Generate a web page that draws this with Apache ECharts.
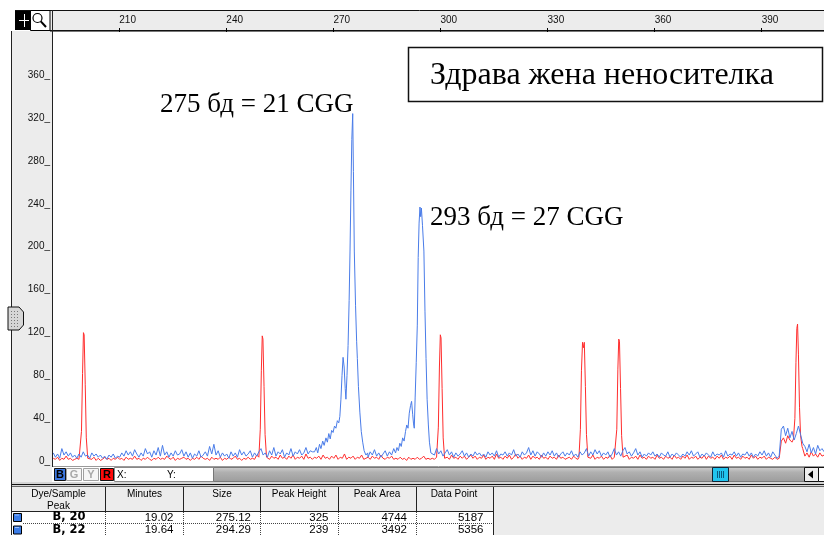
<!DOCTYPE html>
<html>
<head>
<meta charset="utf-8">
<title>Здрава жена неносителка</title>
<style>
  html, body { margin: 0; padding: 0; background: #fff; }
  #main { width: 824px; height: 535px; }
</style>
</head>
<body>
<div id="main"></div>
<script src="https://cdn.jsdelivr.net/npm/echarts/dist/echarts.min.js"></script>
<script>
// ---- data (size in bp, height in RFU) ----
var sizeStart = 191.5, sizeStep = 0.6;   // baseline samples
var xTicks = [210, 240, 270, 300, 330, 360, 390];
var yTicks = [0, 40, 80, 120, 160, 200, 240, 280, 320, 360];

var blueBaseline = [
  8,4,7,3,12,6,9,5,8,4,6,
  3,7,4,9,5,6,3,8,5,7,
  4,6,3,5,2,6,4,7,3,5,
  4,8,5,10,6,9,5,11,7,4,
  8,5,12,7,9,4,10,6,13,5,
  15,6,9,4,8,5,10,6,7,11,
  5,9,4,8,3,7,5,10,4,6,
  9,5,14,7,16,6,10,4,8,5,
  7,3,9,5,8,4,11,6,9,5,
  7,10,4,8,5,9,12,6,8,4,
  10,6,13,5,9,7,11,4,8,6,
  12,5,9,7,11,6,8,13,7,10,9,
  8,6,9,5,10,7,8,6,9,5,7,8,6,9,5,7,6,8,5,7,6,8,5,7,6,
  4,9,6,11,5,8,4,7,10,5,9,6,12,
  8,6,9,5,7,6,8,5,7,6,8,5,7,6,8,5,7,
  9,6,12,7,10,5,8,11,6,9,4,8,5,7,
  10,5,8,4,7,5,9,6,8,5,
  7,4,9,6,8,5,10,4,7,6,
  9,5,8,6,11,5,7,4,9,6,
  8,13,6,10,5,9,7,4,8,5,
  9,6,10,5,8,4,7,9,5,8,
  6,10,5,7,4,9,6,8,12,5,
  9,6,11,7,10,5,8,6,9,4,
  7,12,6,9,5,10,13,7,9,5,
  8,12,6,9,4,7,5,8,6,9,
  5,7,4,8,6,5,9,4,7,5,
  8,6,4,7,5,9,6,10,5,7,
  9,4,7,5,8,6,4,9,5,7,
  6,8,4,10,5,7,6,9,5,8,
  4,7,6,9,5,8,4,7,5,9,
  6,10,5,8,4,9,6,3,5,
  30,33,24,31,22,28,20,26,33,25,17,
  14,9,16,8,13,7,15,10,12,9
];

var redBaseline = [
  3,2,4,1,3,2,5,2,3,1,2,
  3,2,4,2,3,6,3,2,4,1,
  3,1,2,4,2,3,1,3,2,4,
  2,3,1,4,2,3,2,5,2,3,
  1,3,2,4,2,1,3,2,4,2,
  3,2,5,3,2,4,1,3,2,3,
  4,2,3,1,3,2,4,2,5,3,
  2,3,1,4,2,3,2,4,1,3,
  2,4,2,3,5,2,3,1,3,2,
  4,2,3,2,6,3,5,2,3,4,
  2,5,3,4,2,6,3,4,2,5,
  3,6,2,4,3,5,2,7,3,4,2,
  4,3,5,2,6,3,4,2,5,3,6,2,4,3,7,2,4,3,5,2,4,3,6,2,3,
  4,2,5,3,4,2,6,3,2,4,3,5,2,
  3,2,4,2,3,1,4,2,3,2,4,2,3,5,2,3,2,
  3,2,4,3,2,5,3,4,2,6,3,4,2,5,
  3,5,2,4,6,3,5,2,4,3,
  6,2,4,3,5,2,7,3,4,2,
  5,3,6,2,4,7,3,5,2,4,
  3,6,2,5,3,4,2,6,3,4,
  2,5,3,4,2,6,3,4,2,3,
  4,2,5,3,2,4,3,5,2,4,
  3,6,2,4,3,5,2,4,3,6,
  2,4,3,5,2,4,3,6,2,4,
  3,5,2,6,3,4,2,5,3,4,
  2,6,3,4,2,5,3,4,2,6,
  3,4,2,5,3,6,2,4,3,5,
  2,4,3,6,2,5,3,4,2,5,
  3,6,2,4,3,5,2,6,3,4,
  2,5,3,4,2,6,3,5,2,4,
  3,5,2,4,3,2,4,2,3,
  19,22,17,24,20,18,23,21,26,20,12,
  5,8,4,9,5,7,4,8,5,6
];

// sample peaks (blue)
var bluePeak275 = [[264.7,9],[265.2,13],[265.6,8],[266.1,16],[266.5,12],[267.0,19],[267.4,15],[267.9,22],
  [268.3,18],[268.7,26],[269.1,21],[269.5,29],[269.9,27],[270.3,33],[270.7,31],[271.1,38],[271.5,36],
  [271.8,42],[272.1,58],[272.4,80],[272.7,97],[273.0,88],[273.3,68],[273.5,58],[273.8,80],[274.1,108],
  [274.4,150],[274.65,196],[274.9,252],[275.15,300],[275.4,324],[275.6,270],[275.85,196],[276.2,145],
  [276.5,112],[276.7,96],[277.0,70],[277.4,46],[277.8,28],[278.2,18],[278.6,10],[279.1,6],[279.6,8]];
var bluePeak294 = [[287.4,8],[287.8,13],[288.2,10],[288.6,17],[289.0,14],[289.4,22],[289.8,19],[290.2,28],
  [290.55,34],[290.9,31],[291.25,45],[291.6,52],[291.9,56],[292.2,44],[292.45,35],[292.65,31],[292.9,60],
  [293.2,92],[293.5,127],[293.75,190],[294.0,222],[294.25,237],[294.45,228],[294.65,236],[294.95,220],
  [295.35,196],[295.65,140],[295.95,96],[296.25,58],[296.6,34],[296.9,18],[297.3,8]];

// size standard peaks (red)
var redStd200 = [[199.0,3],[199.4,28],[199.7,82],[199.95,120],[200.15,118],[200.45,72],[200.75,22],[201.15,3]];
var redStd250 = [[249.1,4],[249.5,30],[249.8,85],[250.05,117],[250.25,114],[250.55,70],[250.85,25],[251.25,4]];
var redStd300 = [[299.0,3],[299.4,32],[299.7,88],[299.95,118],[300.15,115],[300.45,68],[300.75,22],[301.15,3]];
var redStd340 = [[338.8,4],[339.2,30],[339.5,85],[339.8,111],[340.05,106],[340.3,111],[340.6,70],[340.9,25],[341.3,4]];
var redStd350 = [[349.0,3],[349.4,30],[349.7,86],[349.95,114],[350.15,112],[350.45,68],[350.75,24],[351.15,4]];
var redStd400 = [[398.9,21],[399.3,40],[399.6,92],[399.85,124],[400.05,128],[400.3,100],[400.6,50],[400.9,24],[401.3,14]];

// peak table
var peakNames   = ['B, 20', 'B, 22'];
var peakMinutes = ['19.02', '19.64'];
var peakSizes   = ['275.12', '294.29'];
var peakHeights = ['325', '239'];
var peakAreas   = ['4744', '3492'];
var peakPoints  = ['5187', '5356'];
var tableHead   = ['Minutes', 'Size', 'Peak Height', 'Peak Area', 'Data Point'];

// baseline + peaks -> one sorted trace
function buildTrace(baseline, peaks) {
  var pts = [];
  baseline.forEach(function (h, i) {
    var s = sizeStart + i * sizeStep;
    var covered = peaks.some(function (p) { return s >= p[0][0] && s <= p[p.length - 1][0]; });
    if (!covered) pts.push([s, h]);
  });
  peaks.forEach(function (p) { pts = pts.concat(p); });
  pts.sort(function (a, b) { return a[0] - b[0]; });
  return pts;
}

var blueTrace = buildTrace(blueBaseline, [bluePeak275, bluePeak294]);
var redTrace = buildTrace(redBaseline, [redStd200, redStd250, redStd300, redStd340, redStd350, redStd400]);

// ---- window chrome ----
var G = [];
var SANS = '"Liberation Sans", Arial, sans-serif';
var SERIF = '"Liberation Serif", "Times New Roman", serif';
function rect(x, y, w, h, fill, stroke, z) {
  G.push({ type: 'rect', z: z == null ? -5 : z, silent: true,
    shape: { x: x, y: y, width: w, height: h },
    style: { fill: fill, stroke: stroke || null, lineWidth: 1 } });
}
function line(x1, y1, x2, y2, color, dash, z) {
  G.push({ type: 'line', z: z == null ? -4 : z, silent: true,
    shape: { x1: x1, y1: y1, x2: x2, y2: y2 },
    style: { stroke: color, lineWidth: 1, lineDash: dash || null } });
}
function text(x, y, str, font, align, color, z) {
  G.push({ type: 'text', z: z == null ? 5 : z, silent: true, x: x, y: y,
    style: { text: str, font: font, fill: color || '#000', align: align || 'left', verticalAlign: 'middle' } });
}

// top ruler + tool icons
rect(50, 10, 774, 21, '#ececec');
line(15, 10.5, 824, 10.5, '#111');
line(50, 30.5, 824, 30.5, '#111');
line(50, 31.5, 824, 31.5, '#777');
rect(15, 11, 15, 19, '#000', null, 3);
line(19, 20.5, 29, 20.5, '#fff', null, 4);
line(24.5, 14, 24.5, 27, '#fff', null, 4);
rect(30.5, 10.5, 19.5, 20, '#fff', '#000', 3);
G.push({ type: 'circle', z: 4, silent: true, shape: { cx: 37.5, cy: 18, r: 4.5 }, style: { fill: null, stroke: '#000', lineWidth: 1.2 } });
G.push({ type: 'line', z: 4, silent: true, shape: { x1: 40.8, y1: 21.3, x2: 46, y2: 27 }, style: { stroke: '#000', lineWidth: 2 } });

// left column with the scale
rect(12, 31, 40, 453, '#ececec');
line(11.5, 31, 11.5, 535, '#222');
line(52.5, 10, 52.5, 467, '#222');
G.push({ type: 'polygon', z: 6, silent: true,
  shape: { points: [[8, 307], [19, 307], [23.5, 312], [23.5, 325], [19, 330], [8, 330]] },
  style: { fill: '#d6d6d6', stroke: '#111', lineWidth: 1 } });
for (var dy = 311; dy <= 326; dy += 3) {
  for (var dx = 11; dx <= 18; dx += 3) rect(dx, dy, 1, 1, '#777', null, 7);
}

// dye buttons + scroll bar
line(53, 466.5, 824, 466.5, '#9a9a9a');
rect(54.5, 468.5, 11, 12, '#3d78e0', '#111', 3);
text(60, 475, 'B', 'bold 11px ' + SANS, 'center', '#000');
rect(66.5, 468.5, 15, 12, '#f6f6f6', '#a0a0a0', 3);
text(74, 475, 'G', 'bold 11px ' + SANS, 'center', '#a8a8a8');
rect(83.5, 468.5, 15, 12, '#f6f6f6', '#a0a0a0', 3);
text(91, 475, 'Y', 'bold 11px ' + SANS, 'center', '#a8a8a8');
rect(100.5, 468.5, 13, 12, '#ff0a0a', '#111', 3);
text(107, 475, 'R', 'bold 11px ' + SANS, 'center', '#000');
rect(114.5, 467.5, 99, 14, '#fff', '#888', 3);
text(117, 475, 'X:', '10px ' + SANS, 'left', '#000');
text(167, 475, 'Y:', '10px ' + SANS, 'left', '#000');
G.push({ type: 'rect', z: 3, silent: true, shape: { x: 213.5, y: 467.5, width: 591, height: 14 },
  style: { stroke: '#777', lineWidth: 1,
    fill: { type: 'linear', x: 0, y: 0, x2: 0, y2: 1,
      colorStops: [{ offset: 0, color: '#cfcfcf' }, { offset: 0.35, color: '#b0b0b0' }, { offset: 1, color: '#9c9c9c' }] } } });
rect(712.5, 467.5, 16, 14, '#22c4ee', '#123', 4);
[717.5, 719.5, 721.5, 723.5].forEach(function (x) { line(x, 471, x, 478, '#0a5a80', null, 5); });
rect(804.5, 467.5, 14, 14, '#eeeeee', '#111', 4);
G.push({ type: 'polygon', z: 5, silent: true, shape: { points: [[808, 474.5], [813, 470.5], [813, 478.5]] }, style: { fill: '#000' } });
rect(818.5, 467.5, 10, 14, '#fff', '#111', 4);

// separator + peak table
rect(12, 482, 812, 5, '#d4d4d4');
line(12, 484.5, 824, 484.5, '#111');
line(12, 486.5, 824, 486.5, '#666');
rect(12, 487, 812, 48, '#ececec');
rect(12, 512, 481, 23, '#fff');
var colX = [105.5, 183.5, 260.5, 338.5, 416.5, 493.5];
colX.forEach(function (x, k) {
  line(x, 487, x, 512, '#222');
  line(x, 512, x, 535, k === colX.length - 1 ? '#222' : '#444', k === colX.length - 1 ? null : [1, 1]);
});
line(12, 511.5, 493, 511.5, '#222');
line(23, 523.5, 493, 523.5, '#444', [1, 1]);
text(58.5, 494, 'Dye/Sample', '10px ' + SANS, 'center');
text(58.5, 506, 'Peak', '10px ' + SANS, 'center');
var headX = [144.5, 222, 299, 377, 454];
tableHead.forEach(function (h, k) { text(headX[k], 494, h, '10px ' + SANS, 'center'); });
var rightX = [173.5, 251, 328.5, 407, 483.5];
peakNames.forEach(function (name, r) {
  var y = 517.5 + r * 12.5;
  rect(13.5, y - 4, 8, 8, '#3b7de8', '#000', 3);
  line(15, y - 2.5, 19, y - 2.5, '#9cc0ff', null, 4);
  text(69, y, name, 'bold 11.5px "DejaVu Sans", sans-serif', 'center');
  var vals = [peakMinutes[r], peakSizes[r], peakHeights[r], peakAreas[r], peakPoints[r]];
  vals.forEach(function (v, k) { text(rightX[k], y, v, '11.5px ' + SANS, 'right'); });
});

// title box and peak annotations
rect(408.5, 47.5, 414, 54, '#fff', '#111', 8);
G[G.length - 1].style.lineWidth = 1.5;
text(430, 76, 'Здрава жена неносителка', '32px ' + SERIF, 'left', '#000', 9);
text(160, 105, '275 бд = 21 CGG', '27px ' + SERIF, 'left', '#000', 9);
text(430, 218, '293 бд = 27 CGG', '27px ' + SERIF, 'left', '#000', 9);

var chart = echarts.init(document.getElementById('main'), null, { renderer: 'canvas' });
chart.setOption({
  animation: false,
  backgroundColor: '#fff',
  grid: { left: 53, top: 32, right: 0, bottom: 69 },
  xAxis: {
    type: 'value', position: 'top', min: 191.42, max: 407.46,
    axisLine: { show: false, onZero: false },
    splitLine: { show: false },
    axisTick: { show: true, length: 4, customValues: xTicks, lineStyle: { color: '#000' } },
    axisLabel: { customValues: xTicks, align: 'left', margin: 7, color: '#111', fontSize: 10, fontFamily: 'Liberation Sans' }
  },
  yAxis: {
    type: 'value', min: -4.2, max: 400,
    axisLine: { show: false, onZero: false },
    axisTick: { show: false },
    splitLine: { show: false },
    axisLabel: {
      customValues: yTicks, margin: 3, color: '#111', fontSize: 10, fontFamily: 'Liberation Sans',
      padding: [0, 0, 4, 0],
      formatter: function (v) { return v + '_'; }
    }
  },
  series: [
    { type: 'line', name: 'R', data: redTrace, symbol: 'none', silent: true, z: 2,
      lineStyle: { color: '#ff2d2d', width: 1 } },
    { type: 'line', name: 'B', data: blueTrace, symbol: 'none', silent: true, z: 3,
      lineStyle: { color: '#4a7ce8', width: 1 } }
  ],
  graphic: { elements: G }
});
</script>
</body>
</html>
